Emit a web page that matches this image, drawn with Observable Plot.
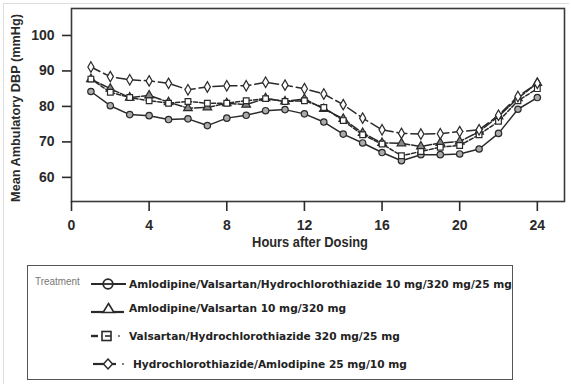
<!DOCTYPE html>
<html>
<head>
<meta charset="utf-8">
<script src="https://cdn.jsdelivr.net/npm/d3@7"></script>
<script src="https://cdn.jsdelivr.net/npm/@observablehq/plot@0.6"></script>
<style>
  body { margin: 0; background: #fff; }
  #wrap { position: relative; width: 571px; height: 387px; overflow: hidden; }
  #page { position: absolute; left: 3px; top: 3px; width: 566px; height: 381px; border-left: 1px solid #ddd; border-top: 1px solid #ddd; box-sizing: border-box; }
  #chart { position: absolute; left: 0; top: 0; }
  #legend { position: absolute; left: 27px; top: 265px; width: 486px; height: 115px; border: 1.5px solid #555; box-sizing: border-box; font-family: "DejaVu Sans", Verdana, sans-serif; font-weight: bold; font-size: 10.6px; color: #222; }
  .treat { position: absolute; left: 7px; top: 9px; font-family: "Liberation Sans", sans-serif; font-weight: normal; font-size: 11.5px; color: #777; transform: scaleX(0.86); transform-origin: left center; }
  .row { position: absolute; left: 62px; height: 16px; display: flex; align-items: center; white-space: nowrap; }
  .row svg { flex: none; }
</style>
</head>
<body>
<div id="wrap">
  <div id="page"></div>
  <div id="chart"></div>
  <div id="legend"></div>
</div>
<script>
// ---- data ----
const hours = [1, 2, 3, 4, 5, 6, 7, 8, 9, 10, 11, 12, 13, 14, 15, 16, 17, 18, 19, 20, 21, 22, 23, 24];
const treatments = [
  "Amlodipine/Valsartan/Hydrochlorothiazide 10 mg/320 mg/25 mg",
  "Amlodipine/Valsartan 10 mg/320 mg",
  "Valsartan/Hydrochlorothiazide 320 mg/25 mg",
  "Hydrochlorothiazide/Amlodipine 25 mg/10 mg"
];
const avhDBP = [84.2, 80.2, 77.7, 77.4, 76.3, 76.5, 74.6, 76.7, 77.5, 78.8, 79.1, 77.9, 75.6, 72.2, 69.7, 67.0, 64.7, 66.4, 66.4, 66.6, 68.0, 72.4, 79.2, 82.5];
const avDBP  = [87.7, 85.0, 82.5, 83.1, 81.2, 79.5, 79.7, 80.9, 80.5, 82.3, 81.4, 82.1, 79.3, 76.5, 72.5, 69.7, 69.6, 68.7, 69.7, 70.1, 72.9, 77.2, 82.3, 86.6];
const vhDBP  = [87.7, 84.0, 82.5, 81.6, 80.9, 81.4, 80.9, 80.9, 81.6, 82.2, 81.4, 81.6, 79.7, 76.0, 72.0, 69.4, 66.1, 67.3, 68.5, 69.0, 72.0, 75.8, 81.6, 85.0];
const haDBP  = [91.1, 88.4, 87.5, 87.2, 86.5, 84.7, 85.5, 85.8, 85.8, 86.8, 86.0, 85.0, 83.5, 80.5, 76.7, 73.4, 72.4, 72.2, 72.3, 72.9, 73.4, 77.5, 82.8, 86.5];
const xTicks = [0, 4, 8, 12, 16, 20, 24];
const yTicks = [60, 70, 80, 90, 100];
const xLabel = "Hours after Dosing";
const yLabel = "Mean Ambulatory DBP (mmHg)";
const legendTitle = "Treatment";

// ---- styles per series ----
const styles = [
  {values: avhDBP, symbol: "circle",   fill: "#aaa", dash: null},
  {values: avDBP,  symbol: "triangle", fill: "#888", dash: "9,2"},
  {values: vhDBP,  symbol: "square",   fill: "#fff", dash: "4,2"},
  {values: haDBP,  symbol: "diamond",  fill: "#fff", dash: "10,4"}
];

const font = "'Liberation Sans', Arial, sans-serif";
const ink = "#2a2a2a";

const marks = [];
marks.push(Plot.frame({stroke: "#3a3a3a", strokeWidth: 1.6}));
marks.push(Plot.axisY({ticks: yTicks, tickSize: 9, tickPadding: 8, label: null, fontSize: 14, fontWeight: "bold", strokeWidth: 1.6}));
marks.push(Plot.axisX({ticks: xTicks, tickSize: 10, tickPadding: 9, label: null, fontSize: 14, fontWeight: "bold", strokeWidth: 1.6}));
marks.push(Plot.text([xLabel], {frameAnchor: "bottom", dy: 45, dx: -8, textAnchor: "middle", fontSize: 14, fontWeight: "bold", fill: ink}));
marks.push(Plot.text([yLabel], {frameAnchor: "left", dx: -56, dy: 3, rotate: -90, textAnchor: "middle", fontSize: 13.5, fontWeight: "bold", fill: ink}));

styles.forEach((s, i) => {
  const rows = hours.map((h, j) => ({hour: h, value: s.values[j], treatment: treatments[i]}));
  marks.push(Plot.line(rows, {x: "hour", y: "value", stroke: ink, strokeWidth: 1.5, strokeDasharray: s.dash}));
});
styles.forEach((s, i) => {
  const rows = hours.map((h, j) => ({hour: h, value: s.values[j], treatment: treatments[i]}));
  marks.push(Plot.dot(rows, {x: "hour", y: "value", symbol: () => s.symbol, r: 3.2, fill: s.fill, stroke: ink, strokeWidth: 1.2}));
});

const chart = Plot.plot({
  width: 571,
  height: 258,
  marginLeft: 71,
  marginRight: 7,
  marginTop: 8,
  marginBottom: 57,
  style: {fontFamily: font, color: ink, background: "transparent"},
  x: {domain: [0, 25.4]},
  y: {domain: [53.2, 107.6]},
  symbol: {type: "identity"},
  marks
});
document.getElementById("chart").appendChild(chart);

// condense the axis titles like the reference's narrow bold face
chart.querySelectorAll("text").forEach((el) => {
  const s = el.textContent.trim();
  let target = 0;
  if (s === yLabel) target = 188;
  if (s === xLabel) target = 116;
  if (target) {
    const w = el.getComputedTextLength();
    if (w > 0) {
      const k = target / w;
      const tr = el.getAttribute("transform") || "";
      el.setAttribute("transform", (tr + ` scale(${k.toFixed(4)},1)`).trim());
    }
  }
});

// ---- legend ----
const legend = document.getElementById("legend");
const t = document.createElement("div");
t.className = "treat";
t.textContent = legendTitle;
legend.appendChild(t);
const rowTops = [10, 34, 62, 90];
const sw = [
  `<line x1="1" y1="8" x2="36" y2="8" stroke="${ink}" stroke-width="2.2"/><circle cx="18" cy="8" r="4.8" fill="#fff" stroke="${ink}" stroke-width="1.8"/><line x1="13" y1="8" x2="23" y2="8" stroke="${ink}" stroke-width="1.8"/>`,
  `<line x1="1" y1="12" x2="13" y2="12" stroke="${ink}" stroke-width="2.2"/><line x1="24" y1="12" x2="34" y2="12" stroke="${ink}" stroke-width="2.2"/><path d="M18.5,3.5 L24,12.5 L13,12.5 Z" fill="#fff" stroke="${ink}" stroke-width="1.6"/>`,
  `<line x1="1" y1="8" x2="8" y2="8" stroke="${ink}" stroke-width="2.4"/><rect x="12" y="3.5" width="9" height="9" fill="#fff" stroke="${ink}" stroke-width="1.6"/><line x1="15" y1="8" x2="21" y2="8" stroke="${ink}" stroke-width="1.6"/><circle cx="29" cy="8" r="1.1" fill="#666"/>`,
  `<line x1="3" y1="8" x2="26" y2="8" stroke="${ink}" stroke-width="2.2"/><path d="M18,3 L22.5,8 L18,13 L13.5,8 Z" fill="#fff" stroke="${ink}" stroke-width="1.5"/><circle cx="33" cy="8" r="1.1" fill="#666"/>`
];
treatments.forEach((name, i) => {
  const r = document.createElement("div");
  r.className = "row";
  r.style.top = rowTops[i] + "px";
  r.innerHTML = `<svg width="37" height="16">${sw[i]}</svg><span style="margin-left:${i === 3 ? 6 : 2}px">${name}</span>`;
  legend.appendChild(r);
});
</script>
</body>
</html>
